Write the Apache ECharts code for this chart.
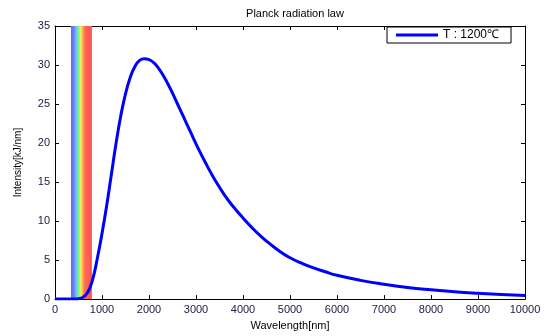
<!DOCTYPE html>
<html><head><meta charset="utf-8">
<script src="https://cdn.jsdelivr.net/npm/echarts@6/dist/echarts.min.js"></script>
<style>html,body{margin:0;padding:0;background:#fff}#c{width:550px;height:336px}</style>
</head><body><div id="c"></div>
<script>
var wavelengths = [0,300,400,500,600,700,800,900,1000,1100,1200,1300,1400,1500,1600,1700,1800,1900,2000,2100,2200,2300,2400,2500,2600,2700,2800,2900,3000,3200,3400,3600,3800,4000,4200,4400,4600,4800,5000,5250,5500,5750,6000,6500,7000,7500,8000,8500,9000,9500,10000];
var intensity = [0,0,0.01,0.05,0.25,0.9,2.5,5.2,8.4,12.0,16.0,20.0,23.5,26.3,28.4,29.8,30.6,30.8,30.7,30.3,29.6,28.7,27.6,26.4,25.1,23.8,22.5,21.2,19.9,17.5,15.3,13.4,11.8,10.4,9.1,7.95,6.95,6.05,5.3,4.6,4.0,3.5,3.05,2.4,1.9,1.5,1.2,0.95,0.75,0.58,0.45];
var visibleBand = [340, 785];
var xTicks = {min:0, max:10000, interval:1000};
var yTicks = {min:0, max:35, interval:5};
var seriesName = 'T : 1200\u2103';

var chart = echarts.init(document.getElementById('c'));
var pts = wavelengths.map(function(w,i){return [w, intensity[i]];});
var font = 'Liberation Sans, Arial, sans-serif';
var labelColor = '#1a1a40';
function xAx(pos, show){
  return {type:'value', position:pos, min:xTicks.min, max:xTicks.max, interval:xTicks.interval,
    axisLine:{show:true, onZero:false, lineStyle:{color:'#000', width:1}},
    axisTick:{show:true, inside:true, length:4, lineStyle:{color:'#000'}},
    axisLabel:{show:show, color:labelColor, fontFamily:font, fontSize:11, margin:5,
      formatter:function(v){return String(v);}},
    splitLine:{show:false},
    name: show ? 'Wavelength[nm]' : '', nameLocation:'middle', nameGap:18,
    nameTextStyle:{color:'#000', fontFamily:font, fontSize:11}};
}
function yAx(pos, show){
  return {type:'value', position:pos, min:yTicks.min, max:yTicks.max, interval:yTicks.interval,
    axisLine:{show:true, onZero:false, lineStyle:{color:'#000', width:1}},
    axisTick:{show:true, inside:true, length:4, lineStyle:{color:'#000'}},
    axisLabel:{show:show, color:labelColor, fontFamily:font, fontSize:11, margin:5},
    splitLine:{show:false},
    name: show ? 'Intensity[kJ/nm]' : '', nameLocation:'middle', nameGap:32,
    nameTextStyle:{color:'#000', fontFamily:font, fontSize:10}};
}
chart.setOption({
  backgroundColor:'#fff',
  animation:false,
  title:{text:'Planck radiation law', left:290, textAlign:'center', top:3,
    textStyle:{fontFamily:font, fontSize:11, fontWeight:'normal', color:'#000'}},
  grid:{left:55, right:25, top:26, bottom:33},
  legend:{left:387, top:27, orient:'horizontal', backgroundColor:'#fff',
    borderColor:'#000', borderWidth:1, borderRadius:0, padding:[2,12,2,9],
    itemWidth:42, itemHeight:3, icon:'rect', itemGap:4,
    textStyle:{fontFamily:font, fontSize:12, color:'#000'},
    data:[seriesName]},
  xAxis:[xAx('bottom', true), xAx('top', false)],
  yAxis:[yAx('left', true), yAx('right', false)],
  series:[{
    name:seriesName, type:'line', data:pts, showSymbol:false, smooth:true,
    lineStyle:{color:'#0000ff', width:3}, itemStyle:{color:'#0000ff'}, z:5,
    markArea:{silent:true, itemStyle:{
      color:new echarts.graphic.LinearGradient(0,0,1,0,[
        {offset:0, color:'#7460f0'},
        {offset:0.14, color:'#6a80ff'},
        {offset:0.26, color:'#66ccff'},
        {offset:0.36, color:'#80f080'},
        {offset:0.46, color:'#eef066'},
        {offset:0.56, color:'#ffb050'},
        {offset:0.66, color:'#ff6a55'},
        {offset:1, color:'#ff5050'}])},
      data:[[{xAxis:visibleBand[0]},{xAxis:visibleBand[1]}]]}
  }]
});
</script></body></html>
